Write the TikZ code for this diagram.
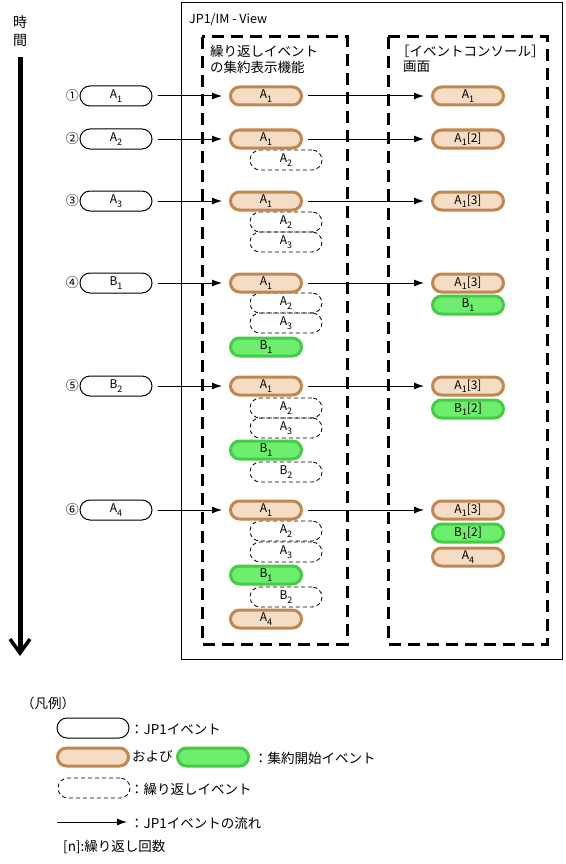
\documentclass[tikz,border=0pt]{standalone}
\usepackage{fontspec}
\setmainfont{Noto Sans CJK JP}
\usetikzlibrary{arrows.meta}
\definecolor{obrd}{HTML}{C0874F}
\definecolor{ofill}{HTML}{F5DCC5}
\definecolor{gbrd}{HTML}{44CC44}
\definecolor{gfill}{HTML}{6EEE6E}
\newcommand\sbs[1]{\raisebox{-3.5pt}{\fontsize{9}{9}\selectfont #1}}
\tikzset{
  lbl/.style={font=\fontsize{12}{12}\selectfont, inner sep=0pt},
  txt/.style={font=\fontsize{13.5}{14}\selectfont, inner sep=0pt, anchor=west},
  jpev/.style={lbl, draw=black, line width=1pt, fill=white, rounded corners=10pt, minimum width=72pt, minimum height=20pt},
  orev/.style={lbl, draw=obrd, fill=ofill, line width=3pt, rounded corners=9pt, minimum width=71pt, minimum height=18pt},
  grev/.style={lbl, draw=gbrd, fill=gfill, line width=3pt, rounded corners=9pt, minimum width=71pt, minimum height=18pt},
  rpev/.style={lbl, draw=black, line width=0.8pt, dash pattern=on 4pt off 3pt, rounded corners=10pt, minimum width=72pt, minimum height=20pt},
  flow/.style={-{Latex[length=10pt,width=7pt]}, line width=1pt, shorten >=7pt, shorten <=5pt},
  areabox/.style={line width=3pt, dash pattern=on 12pt off 7pt},
  num/.style={font=\fontsize{13}{13}\selectfont, inner sep=0.5pt, anchor=east}
}
\begin{document}
\begin{tikzpicture}[x=1pt,y=-1pt]
\useasboundingbox (0,0) rectangle (565,864);
% time axis
\node[font=\fontsize{14}{14}\selectfont, inner sep=0pt] (t1) at (20,22) {時};
\node[font=\fontsize{14}{14}\selectfont, inner sep=0pt] (t2) at (20,40) {間};
\coordinate (ta) at (20,57);
\coordinate (tb) at (20,656);
\draw[line width=5pt, -{Straight Barb[length=14pt,width=20pt,line width=3.5pt]}] (ta) -- (tb);
% frames
\draw[line width=1pt] (181,3) rectangle (562,659);
\node[txt, font=\fontsize{12.5}{13}\selectfont] (title) at (189,20) {JP1/IM - View};
\draw[areabox] (202,37) rectangle (347,644);
\draw[areabox] (388,37) rectangle (547,644);
\node[txt] (h1) at (210,51) {繰り返しイベント};
\node[txt] (h2) at (210,67) {の集約表示機能};
\node[txt] (h3) at (396,51) {［イベントコンソール］};
\node[txt] (h4) at (403,67) {画面};

% ---- row 1
\node[jpev] (s1) at (116,96) {A\sbs{1}};
\node[num] at (s1.west) {①};
\node[orev] (m1) at (266,96) {A\sbs{1}};
\node[orev] (c1) at (468,96) {A\sbs{1}};
\draw[flow] (s1) -- (m1);
\draw[flow] (m1) -- (c1);
% ---- row 2
\node[jpev] (s2) at (116,139) {A\sbs{2}};
\node[num] at (s2.west) {②};
\node[rpev] (m2b) at (286,160) {A\sbs{2}};
\node[orev] (m2) at (266,139) {A\sbs{1}};
\node[orev] (c2) at (468,139) {A\sbs{1}[2]};
\draw[flow] (s2) -- (m2);
\draw[flow] (m2) -- (c2);
% ---- row 3
\node[jpev] (s3) at (116,201) {A\sbs{3}};
\node[num] at (s3.west) {③};
\node[rpev] (m3b) at (286,222) {A\sbs{2}};
\node[rpev] (m3c) at (286,242) {A\sbs{3}};
\node[orev] (m3) at (266,201) {A\sbs{1}};
\node[orev] (c3) at (468,201) {A\sbs{1}[3]};
\draw[flow] (s3) -- (m3);
\draw[flow] (m3) -- (c3);
% ---- row 4
\node[jpev] (s4) at (116,283) {B\sbs{1}};
\node[num] at (s4.west) {④};
\node[rpev] (m4b) at (286,303) {A\sbs{2}};
\node[rpev] (m4c) at (286,323) {A\sbs{3}};
\node[orev] (m4) at (266,283) {A\sbs{1}};
\node[grev] (m4d) at (266,347) {B\sbs{1}};
\node[grev] (c4b) at (468,305) {B\sbs{1}};
\node[orev] (c4) at (468,283) {A\sbs{1}[3]};
\draw[flow] (s4) -- (m4);
\draw[flow] (m4) -- (c4);
% ---- row 5
\node[jpev] (s5) at (116,386) {B\sbs{2}};
\node[num] at (s5.west) {⑤};
\node[rpev] (m5b) at (286,408) {A\sbs{2}};
\node[rpev] (m5c) at (286,428) {A\sbs{3}};
\node[orev] (m5) at (266,386) {A\sbs{1}};
\node[rpev] (m5e) at (286,472) {B\sbs{2}};
\node[grev] (m5d) at (266,450) {B\sbs{1}};
\node[grev] (c5b) at (468,409) {B\sbs{1}[2]};
\node[orev] (c5) at (468,386) {A\sbs{1}[3]};
\draw[flow] (s5) -- (m5);
\draw[flow] (m5) -- (c5);
% ---- row 6
\node[jpev] (s6) at (116,510) {A\sbs{4}};
\node[num] at (s6.west) {⑥};
\node[rpev] (m6b) at (286,531) {A\sbs{2}};
\node[rpev] (m6c) at (286,552) {A\sbs{3}};
\node[orev] (m6) at (266,510) {A\sbs{1}};
\node[rpev] (m6e) at (286,597) {B\sbs{2}};
\node[grev] (m6d) at (266,575) {B\sbs{1}};
\node[orev] (m6f) at (266,619) {A\sbs{4}};
\node[orev] (c6c) at (468,557) {A\sbs{4}};
\node[grev] (c6b) at (468,533) {B\sbs{1}[2]};
\node[orev] (c6) at (468,510) {A\sbs{1}[3]};
\draw[flow] (s6) -- (m6);
\draw[flow] (m6) -- (c6);

% ---- legend
\node[txt] (lg) at (21,703) {（凡例）};
\node[jpev] (l1) at (93,728) {};
\node[txt] (l1t) at (130,729) {：JP1イベント};
\node[orev] (l2a) at (93,757) {};
\node[txt] (l2t) at (132,756) {および};
\node[grev] (l2b) at (213,757) {};
\node[txt] (l2u) at (254,758) {：集約開始イベント};
\node[rpev] (l3) at (94,788) {};
\node[txt] (l3t) at (130,789) {：繰り返しイベント};
\coordinate (la) at (57,822);
\coordinate (lb) at (127,822);
\draw[-{Latex[length=10pt,width=7pt]}, line width=1pt] (la) -- (lb);
\node[txt] (l4t) at (130,823) {：JP1イベントの流れ};
\node[txt] (l5t) at (63,847) {[n]:繰り返し回数};
\end{tikzpicture}
\end{document}
